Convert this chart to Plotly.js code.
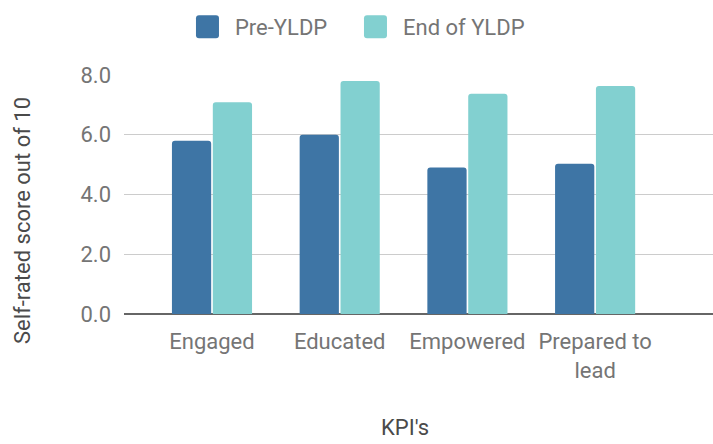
<!DOCTYPE html>
<html>
<head>
<meta charset="utf-8">
<script src="https://cdn.plot.ly/plotly-3.0.1.min.js"></script>
<style>html,body{margin:0;padding:0;background:#fff;}#chart{width:713px;height:444px;}</style>
</head>
<body>
<div id="chart"></div>
<script>
var categories = ["Engaged", "Educated", "Empowered", "Prepared to<br>lead"];
var seriesNames = ["Pre-YLDP", "End of YLDP"];
var preValues = [5.8, 6.0, 4.9, 5.03];
var endValues = [7.09, 7.8, 7.37, 7.63];
var yTickVals = [0, 2, 4, 6, 8];
var yTickText = ["0.0", "2.0", "4.0", "6.0", "8.0"];
var xTitle = "KPI's";
var yTitle = "Self-rated score out of 10";

var FONT = "Roboto, 'Open Sans', sans-serif";
var FS = 22;
var TICK = "#757575";
var TITLE = "#4a4a4a";

var traces = [
  {type: "bar", name: seriesNames[0], x: categories, y: preValues,
   marker: {color: "#3e75a5", cornerradius: 3}},
  {type: "bar", name: seriesNames[1], x: categories, y: endValues,
   marker: {color: "#82d0d0", cornerradius: 3}}
];

var layout = {
  width: 713, height: 444,
  margin: {l: 124, r: 0, t: 75, b: 130, pad: 0},
  paper_bgcolor: "#fff", plot_bgcolor: "#fff",
  font: {family: FONT, size: FS, color: TICK},
  barmode: "group",
  bargap: 0.36,
  bargroupgap: 0.04,
  showlegend: true,
  legend: {orientation: "h", x: 0.1205, xref: "paper", xanchor: "left",
           y: 1 - 27 / 444, yref: "container", yanchor: "middle",
           entrywidth: 123, entrywidthmode: "pixels",
           font: {family: FONT, size: FS, color: TICK}, traceorder: "normal"},
  xaxis: {
    type: "category",
    range: [-0.689, 3.923],
    showgrid: false, zeroline: false, showline: false,
    ticks: "", ticklabelstandoff: 12,
    tickfont: {family: FONT, size: FS, color: TICK}
  },
  yaxis: {
    range: [0, 8],
    tickvals: yTickVals, ticktext: yTickText,
    showgrid: true, gridcolor: "#cccccc", gridwidth: 1,
    zeroline: true, zerolinecolor: "#666666", zerolinewidth: 2,
    showline: false, ticks: "", ticklabelstandoff: 12,
    tickfont: {family: FONT, size: FS, color: TICK}
  },
  annotations: [
    {text: xTitle, xref: "paper", yref: "paper", x: (405 - 124) / 589, y: (314 - 427) / 239,
     xanchor: "center", yanchor: "middle", showarrow: false,
     font: {family: FONT, size: FS, color: TITLE}},
    {text: yTitle, xref: "paper", yref: "paper", x: (23 - 124) / 589, y: (314 - 221) / 239,
     xanchor: "center", yanchor: "middle", textangle: -90, showarrow: false,
     font: {family: FONT, size: FS, color: TITLE}}
  ]
};

Plotly.newPlot("chart", traces, layout, {staticPlot: true, displayModeBar: false}).then(function (gd) {
  // larger rounded-square legend swatches, as in the reference
  var paths = gd.querySelectorAll(".legendpoints path");
  paths.forEach(function (p) {
    p.setAttribute("d", "M-19,-8.5A3,3 0 0 1 -16,-11.5H1A3,3 0 0 1 4,-8.5V8.5A3,3 0 0 1 1,11.5H-16A3,3 0 0 1 -19,8.5Z");
  });
});
</script>
</body>
</html>
